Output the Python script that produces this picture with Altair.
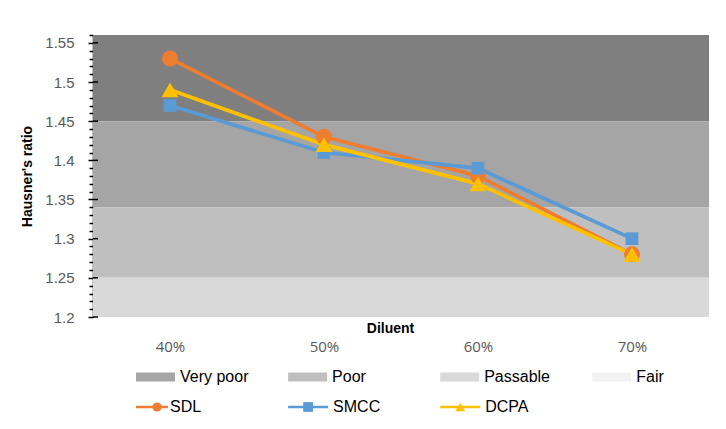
import altair as alt
import pandas as pd

categories = ["40%", "50%", "60%", "70%"]
series_names = ["SDL", "SMCC", "DCPA"]
sdl = [1.53, 1.43, 1.38, 1.28]
smcc = [1.47, 1.41, 1.39, 1.30]
dcpa = [1.49, 1.42, 1.37, 1.28]
series_colors = ["#ED7D31", "#5B9BD5", "#FFC000"]
series_shapes = ["circle", "square", "triangle-up"]
series_sizes = [256, 160, 290]

band_names = ["Very poor", "Poor", "Passable", "Fair"]
band_low = [1.45, 1.34, 1.25, 1.20]
band_high = [1.56, 1.45, 1.34, 1.25]
band_fill = ["#7f7f7f", "#a5a5a5", "#bfbfbf", "#d9d9d9"]
band_key_fill = ["#a6a6a6", "#bfbfbf", "#d9d9d9", "#f2f2f2"]

y_domain = [1.2, 1.56]
y_ticks = [round(1.2 + 0.01 * i, 2) for i in range(37)]
y_major = [1.2, 1.25, 1.3, 1.35, 1.4, 1.45, 1.5, 1.55]

FONT = "Liberation Sans"
XFONT = "Open Sans"

series_values = [sdl, smcc, dcpa]

is_major = "abs(datum.value*20 - round(datum.value*20)) < 0.001"
y_axis = alt.Axis(
    title="Hausner's ratio", titleFont=FONT, titleFontSize=14, titleFontWeight="bold",
    titleColor="black", titlePadding=10,
    values=y_ticks,
    labelExpr=is_major + " ? format(datum.value, '~g') : ''",
    labelOverlap=False, labelFont=FONT, labelFontSize=15, labelColor="#595959", labelPadding=14,
    domainColor="black", domainWidth=1.5, tickColor="black", tickWidth=1.5,
    tickSize={"condition": {"test": is_major, "value": 5}, "value": 4},
    grid=False,
)
y_scale = alt.Scale(domain=y_domain, nice=False, zero=False)

x_axis = alt.Axis(
    title="Diluent", titleFont=FONT, titleFontSize=14, titleFontWeight="bold", titleColor="black",
    titleY=4, titleBaseline="top", titleX=297,
    labelFont=XFONT, labelFontSize=15, labelColor="#595959", labelPadding=22, labelAngle=0,
    domain=False, ticks=False, grid=False,
)
x_scale = alt.Scale(type="point", padding=0.5, domain=categories)

bands_df = pd.DataFrame({"name": band_names, "low": band_low, "high": band_high, "fill": band_fill})
bands = alt.Chart(bands_df).mark_rect().encode(
    y=alt.Y("low:Q", scale=y_scale, axis=y_axis),
    y2="high:Q",
    color=alt.Color("fill:N", scale=None),
)

# inner half of the cross-style major ticks
inner_ticks = alt.Chart(pd.DataFrame({"value": y_major})).mark_rule(
    color="black", strokeWidth=1.5).encode(
    y=alt.Y("value:Q", scale=y_scale, axis=y_axis),
    x=alt.value(0), x2=alt.value(5),
)

layers = [bands, inner_ticks]
for name, vals, col in zip(series_names, series_values, series_colors):
    d = pd.DataFrame({"cat": categories, "value": vals, "series": name})
    base = alt.Chart(d).encode(
        x=alt.X("cat:N", sort=categories, scale=x_scale, axis=x_axis),
        y=alt.Y("value:Q", scale=y_scale, axis=y_axis),
    )
    layers.append(base.mark_line(color=col, strokeWidth=3.75))
for name, vals, col, shp, sz in zip(series_names, series_values, series_colors, series_shapes, series_sizes):
    d = pd.DataFrame({"cat": categories, "value": vals, "series": name})
    base = alt.Chart(d).encode(
        x=alt.X("cat:N", sort=categories, scale=x_scale, axis=x_axis),
        y=alt.Y("value:Q", scale=y_scale, axis=y_axis),
    )
    layers.append(base.mark_point(color=col, fill=col, filled=True, opacity=1, shape=shp, size=sz))

main = alt.layer(*layers).properties(width=616, height=282)

# legend
lx = alt.X("col:Q", scale=alt.Scale(domain=[0, 4.05], nice=False, zero=True), axis=None)
ly = alt.Y("row:Q", scale=alt.Scale(domain=[0, 1], nice=False, zero=True, reverse=True), axis=None)

leg_b = pd.DataFrame({"label": band_names, "col": list(range(len(band_names))), "row": 0, "fill": band_key_fill})
leg_s = pd.DataFrame({"label": series_names, "col": list(range(len(series_names))), "row": 1,
                      "color": series_colors, "shape": series_shapes})

b_keys = alt.Chart(leg_b).mark_rule(strokeWidth=9, xOffset=43, x2Offset=82).encode(
    x=lx, x2="col:Q", y=ly, color=alt.Color("fill:N", scale=None))
b_text = alt.Chart(leg_b).mark_text(align="left", baseline="middle", dx=87, font=FONT, fontSize=16,
                                    color="black").encode(x=lx, y=ly, text="label:N")

first = alt.datum.col == 0
rest = alt.datum.col > 0
s_lines_a = alt.Chart(leg_s).transform_filter(first).mark_rule(strokeWidth=2.5, xOffset=43, x2Offset=75).encode(
    x=lx, x2="col:Q", y=ly, color=alt.Color("color:N", scale=None))
s_lines_b = alt.Chart(leg_s).transform_filter(rest).mark_rule(strokeWidth=2.5, xOffset=43, x2Offset=83).encode(
    x=lx, x2="col:Q", y=ly, color=alt.Color("color:N", scale=None))
s_pts_a = alt.Chart(leg_s).transform_filter(first).mark_point(filled=True, opacity=1, size=85, xOffset=64).encode(
    x=lx, y=ly, color=alt.Color("color:N", scale=None), shape=alt.Shape("shape:N", scale=None))
s_pts_b = alt.Chart(leg_s).transform_filter(rest).mark_point(filled=True, opacity=1, size=95, xOffset=63).encode(
    x=lx, y=ly, color=alt.Color("color:N", scale=None), shape=alt.Shape("shape:N", scale=None))
s_text_a = alt.Chart(leg_s).transform_filter(first).mark_text(align="left", baseline="middle", dx=77, font=FONT,
                                    fontSize=16, color="black").encode(x=lx, y=ly, text="label:N")
s_text_b = alt.Chart(leg_s).transform_filter(rest).mark_text(align="left", baseline="middle", dx=88, font=FONT,
                                    fontSize=16, color="black").encode(x=lx, y=ly, text="label:N")

legend = alt.layer(b_keys, b_text, s_lines_a, s_lines_b, s_pts_a, s_pts_b, s_text_a, s_text_b).properties(
    width=616, height=30)

chart = alt.vconcat(main, legend, spacing=60, bounds="flush").properties(
    padding={"left": 12, "top": 20, "right": 5, "bottom": 5},
    background="white",
).configure_view(stroke=None)

chart.save("out.html", embed_options={"renderer": "svg", "actions": False})
